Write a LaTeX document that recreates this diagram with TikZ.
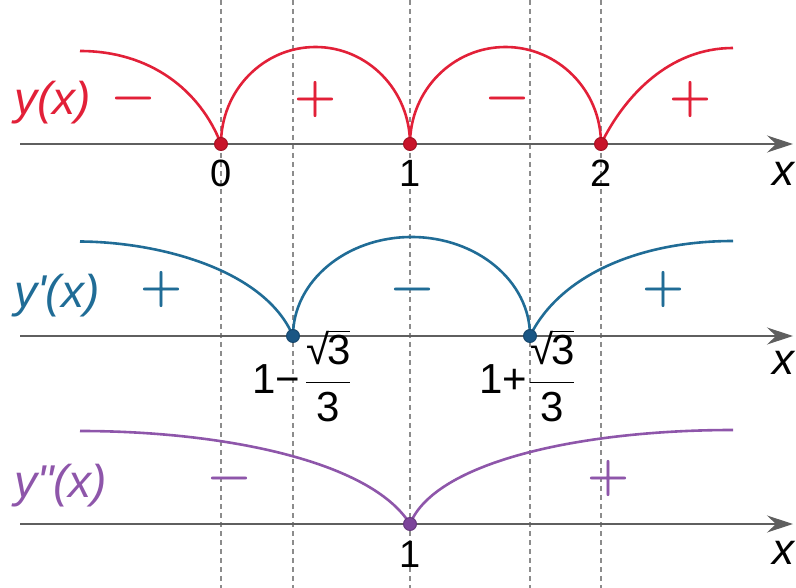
\RequirePackage{fix-cm}
\documentclass[tikz,border=0pt]{standalone}
\usepackage{amsmath}
\usepackage{fontspec}
\setmainfont{Liberation Sans}
\newfontfamily\labelfont{Liberation Sans}
\newfontfamily\signfont{lmroman10-regular.otf}[FakeBold=1.5]
\usetikzlibrary{arrows.meta,backgrounds}
\definecolor{cred}{RGB}{226,32,56}
\definecolor{credd}{RGB}{200,20,42}
\definecolor{cblue}{RGB}{32,108,150}
\definecolor{cblued}{RGB}{26,86,132}
\definecolor{cpur}{RGB}{142,86,170}
\definecolor{cpurd}{RGB}{124,68,154}
\definecolor{caxis}{RGB}{95,95,95}
\definecolor{cdash}{RGB}{140,140,140}
\tikzset{
  dotnode/.style={circle, inner sep=0pt, minimum size=13pt, line width=0.9pt},
  curveline/.style={line width=2.6pt},
  axisline/.style={draw=caxis, line width=1.2pt, -{Stealth[length=26pt,width=17pt,inset=9pt]}},
  dashline/.style={draw=cdash, line width=1.1pt, dash pattern=on 5pt off 4pt},
  signtxt/.style={inner sep=0pt, font=\signfont\fontsize{53}{60}\selectfont},
  fnlabel/.style={anchor=base west, inner sep=0pt, font=\labelfont\fontsize{46}{52}\selectfont\itshape},
  numlabel/.style={anchor=base, inner sep=0pt, font=\fontsize{38}{44}\selectfont},
  fraclabel/.style={anchor=base west, inner sep=0pt, font=\fontsize{42}{50}\selectfont},
  xlabel/.style={anchor=base, inner sep=0pt, font=\fontsize{44}{50}\selectfont\itshape},
}
\newcommand{\rtfrac}{$\dfrac{\text{√}\mkern-1mu\overline{\text{3}}}{\text{3}}$}
\newcommand{\mns}{\vphantom{+}−}
\begin{document}
\begin{tikzpicture}[x=1pt,y=-1pt]
\useasboundingbox (0,0) rectangle (796,588);
% dots
\node[dotnode, fill=credd, draw=credd!80!black] (d0) at (221,144) {};
\node[dotnode, fill=credd, draw=credd!80!black] (d1) at (410,144) {};
\node[dotnode, fill=credd, draw=credd!80!black] (d2) at (601,144) {};
\node[dotnode, fill=cblued, draw=cblued!80!black] (e0) at (293,336) {};
\node[dotnode, fill=cblued, draw=cblued!80!black] (e1) at (530,336) {};
\node[dotnode, fill=cpurd, draw=cpurd!80!black] (f0) at (410,524) {};
% free ends
\coordinate (r0) at (80,51);
\coordinate (r4) at (733,48);
\coordinate (b0) at (80,241.5);
\coordinate (b3) at (733,241);
\coordinate (p0) at (80,431);
\coordinate (p2) at (733,430);
\coordinate (a0s) at (20,144);
\coordinate (a0e) at (793,144);
\coordinate (a1s) at (20,336);
\coordinate (a1e) at (793,336);
\coordinate (a2s) at (20,524);
\coordinate (a2e) at (793,524);
\begin{scope}[on background layer]
\foreach \xx in {221,293,410,530,601} \draw[dashline] (\xx,0) -- (\xx,588);
\draw[axisline] (a0s) -- (a0e);
\draw[axisline] (a1s) -- (a1e);
\draw[axisline] (a2s) -- (a2e);
\draw[curveline, cred] (r0) .. controls (150,51) and (200,90) .. (d0.center)
  .. controls +(0,-53.6) and +(-52.2,0) .. (315.5,47)
  .. controls +(52.2,0) and +(0,-53.6) .. (d1.center)
  .. controls +(0,-53.6) and +(-52.7,0) .. (505.5,47)
  .. controls +(52.7,0) and +(0,-53.6) .. (d2.center)
  .. controls (625,95) and (670,48) .. (r4);
\draw[curveline, cblue] (b0) .. controls (160,242) and (265,270) .. (e0.center)
  .. controls +(0,-54.7) and +(-65.4,0) .. (411.5,237)
  .. controls +(65.4,0) and +(0,-54.7) .. (e1.center)
  .. controls (560,275) and (640,241) .. (b3);
\draw[curveline, cpur] (p0) .. controls (220,431) and (370,460) .. (f0.center)
  .. controls (435,462) and (580,430) .. (p2);
\end{scope}
% function labels
\node[fnlabel, text=cred] (ly) at (14,115) {y(x)};
\node[fnlabel, text=cblue] (lyp) at (14,308) {y'(x)};
\node[fnlabel, text=cpur] (lypp) at (14,497) {y"(x)};
% signs
\node[signtxt, text=cred] (s1) at (133,98) {\mns};
\node[signtxt, text=cred] (s2) at (315,99) {+};
\node[signtxt, text=cred] (s3) at (507,98) {\mns};
\node[signtxt, text=cred] (s4) at (690,99) {+};
\node[signtxt, text=cblue] (t1) at (161,289) {+};
\node[signtxt, text=cblue] (t2) at (412,289) {\mns};
\node[signtxt, text=cblue] (t3) at (663,289) {+};
\node[signtxt, text=cpur] (u1) at (229,478) {\mns};
\node[signtxt, text=cpur] (u2) at (608,478) {+};
% axis labels
\node[numlabel] (n0) at (221,187) {0};
\node[numlabel] (n1) at (410,187) {1};
\node[numlabel] (n2) at (601,187) {2};
\node[fraclabel] (q0) at (252,393) {1−\kern5pt\rtfrac};
\node[fraclabel] (q1) at (479,393) {1+\kern2pt\rtfrac};
\node[numlabel] (n3) at (410,567) {1};
\node[xlabel] (x0) at (783,186) {x};
\node[xlabel] (x1) at (783,374) {x};
\node[xlabel] (x2) at (783,564) {x};
\end{tikzpicture}
\end{document}
